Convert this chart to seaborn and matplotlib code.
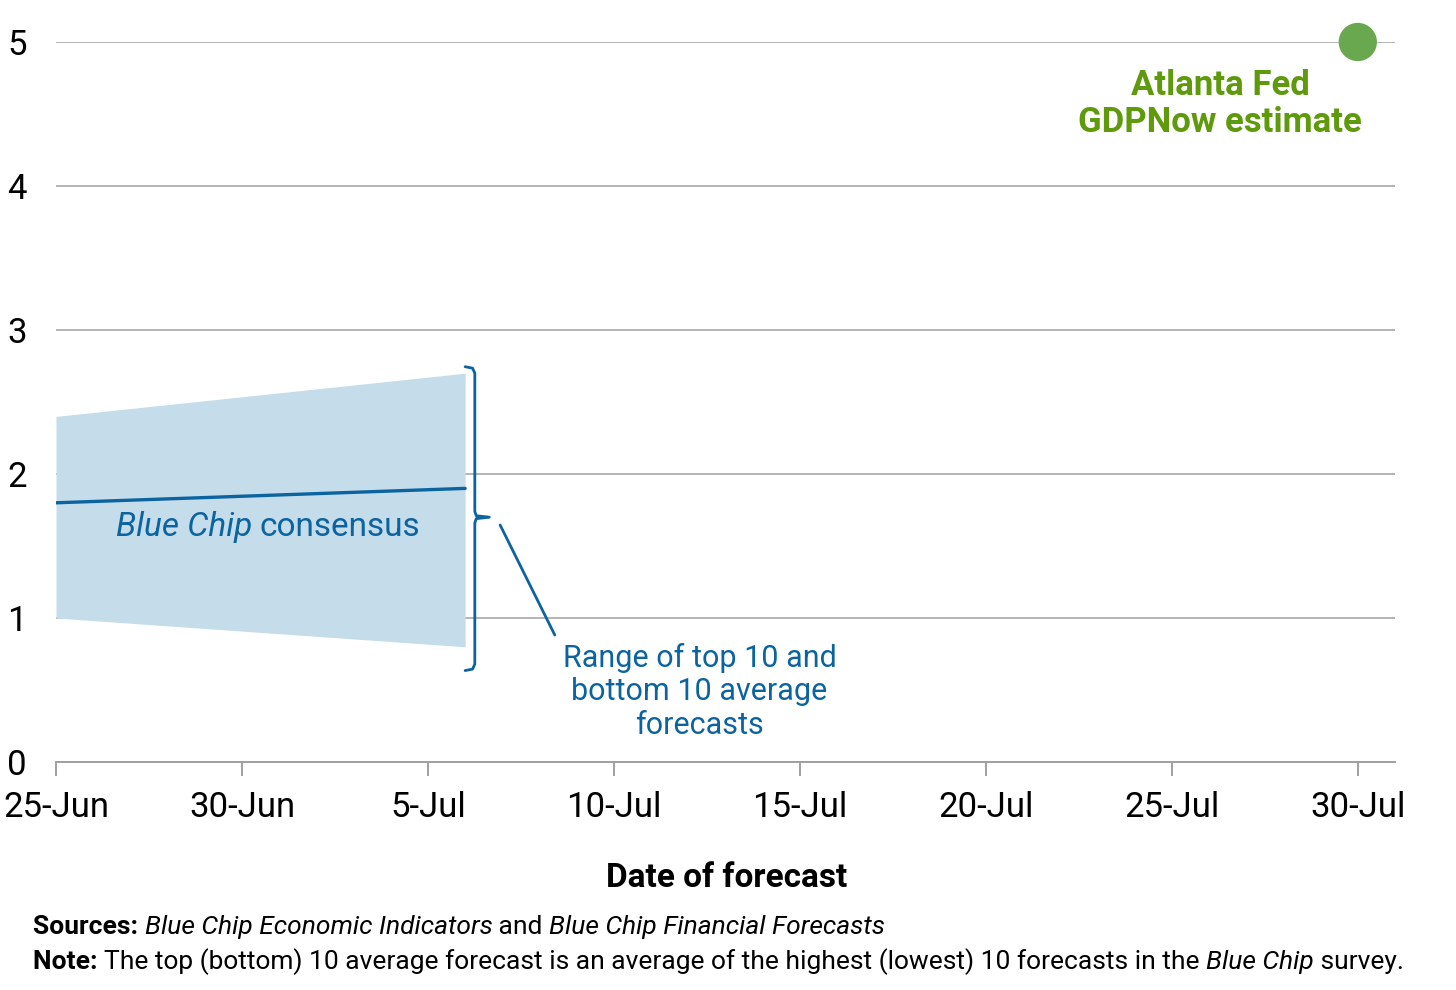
import pandas as pd
import numpy as np
import matplotlib
matplotlib.use("Agg")
import matplotlib.pyplot as plt
import matplotlib.dates as mdates
import seaborn as sns

# data
band_dates = ["2024-06-25", "2024-07-06"]
top10_avg = [2.4, 2.7]
bottom10_avg = [1.0, 0.8]
consensus = [1.8, 1.9]
gdpnow_date = ["2024-07-30"]
gdpnow_value = [5.0]
y_ticks = [0, 1, 2, 3, 4, 5]
x_tick_dates = ["2024-06-25", "2024-06-30", "2024-07-05", "2024-07-10",
                "2024-07-15", "2024-07-20", "2024-07-25", "2024-07-30"]

BLUE = "#0b63a0"
BAND = "#c5dcea"
GREEN_DOT = "#6aa84f"
GREEN_TXT = "#5e9a0c"
GRID = "#a0a0a0"

sns.set_theme(style="white")
FONT = ["Roboto", "DejaVu Sans"]
plt.rcParams["font.family"] = FONT

df = pd.DataFrame({"date": pd.to_datetime(band_dates), "top": top10_avg,
                   "bottom": bottom10_avg, "consensus": consensus})
dot = pd.DataFrame({"date": pd.to_datetime(gdpnow_date), "value": gdpnow_value})

fig = plt.figure(figsize=(14.56, 9.90), dpi=100)
ax = fig.add_axes([56 / 1456, 228 / 990, 1339 / 1456, 720 / 990])

ax.fill_between(df["date"], df["bottom"], df["top"], color=BAND, lw=0, zorder=2)
sns.lineplot(data=df, x="date", y="consensus", ax=ax, color=BLUE, lw=2.4, zorder=3)
sns.scatterplot(data=dot, x="date", y="value", ax=ax, color=GREEN_DOT, s=760,
                edgecolor="none", zorder=5, clip_on=False)

x0 = pd.Timestamp("2024-06-25")
ax.set_xlim(x0, pd.Timestamp("2024-07-31"))
ax.set_ylim(0, 5)
ax.set_yticks(y_ticks)
ax.set_xticks(pd.to_datetime(x_tick_dates))
ax.xaxis.set_major_formatter(mdates.DateFormatter("%-d-%b"))
ax.grid(axis="y", color=GRID, lw=1.1, zorder=1)
ax.set_axisbelow(True)
for s in ["left", "right", "top"]:
    ax.spines[s].set_visible(False)
ax.spines["bottom"].set_color(GRID)
ax.spines["bottom"].set_linewidth(1.4)
ax.spines["bottom"].set_zorder(4)
ax.tick_params(axis="x", length=10, width=1.4, color=GRID, pad=11,
               labelsize=25, labelcolor="black", bottom=True)
ax.tick_params(axis="y", length=0, pad=21, labelsize=25, labelcolor="black")
for lab in ax.get_yticklabels():
    lab.set_horizontalalignment("right")
ax.set_xlabel("")
ax.set_ylabel("")


def d(days):
    return mdates.date2num(x0 + pd.Timedelta(days=days))


# bracket around the range
bx = [11.0, 11.2, 11.26, 11.26, 11.3, 11.65, 11.3, 11.26, 11.26, 11.2, 11.0]
by = [2.745, 2.735, 2.70, 1.74, 1.71, 1.70, 1.69, 1.66, 0.68, 0.645, 0.635]
ax.plot([d(v) for v in bx], by, color=BLUE, lw=2.0, zorder=4, clip_on=False,
        solid_joinstyle="round")
ax.plot([d(11.94), d(13.41)], [1.646, 0.882], color=BLUE, lw=2.0, zorder=4)

fig.canvas.draw()
r = fig.canvas.get_renderer()
inv = ax.transData.inverted()
t1 = ax.text(d(1.6), 1.63, "Blue Chip", ha="left", va="center", fontsize=24,
             color=BLUE, style="italic", zorder=6)
bb = t1.get_window_extent(r)
xe = inv.transform((bb.x1 + 8, 0))[0]
ax.text(xe, 1.63, "consensus", ha="left", va="center", fontsize=24,
        color=BLUE, zorder=6)

ax.text(d(17.3), 0.49, "Range of top 10 and\nbottom 10 average\nforecasts",
        ha="center", va="center", fontsize=22, color=BLUE, linespacing=1.2)
ax.text(d(31.3), 4.57, "Atlanta Fed\nGDPNow estimate", ha="center",
        va="center", fontsize=25, color=GREEN_TXT, fontweight="bold",
        linespacing=1.15)

fig.text(727 / 1456, 1 - 878 / 990, "Date of forecast", ha="center",
         va="center", fontsize=24, fontweight="bold", color="black")


def rich_line(x, y, pieces, size=19):
    # draw text pieces one after the other in figure pixels
    for txt, kw in pieces:
        t = fig.text(x / 1456, 1 - y / 990, txt, ha="left", va="center",
                     fontsize=size, color="black", **kw)
        ext = t.get_window_extent(fig.canvas.get_renderer())
        x = ext.x1


rich_line(33, 927, [("Sources: ", {"fontweight": "bold"}),
                    ("Blue Chip Economic Indicators", {"style": "italic"}),
                    (" and ", {}),
                    ("Blue Chip Financial Forecasts", {"style": "italic"})])
rich_line(33, 962, [("Note: ", {"fontweight": "bold"}),
                    ("The top (bottom) 10 average forecast is an average of the highest (lowest) 10 forecasts in the ", {}),
                    ("Blue Chip", {"style": "italic"}),
                    (" survey.", {})])

fig.savefig("out.png", dpi=100, facecolor="white")
